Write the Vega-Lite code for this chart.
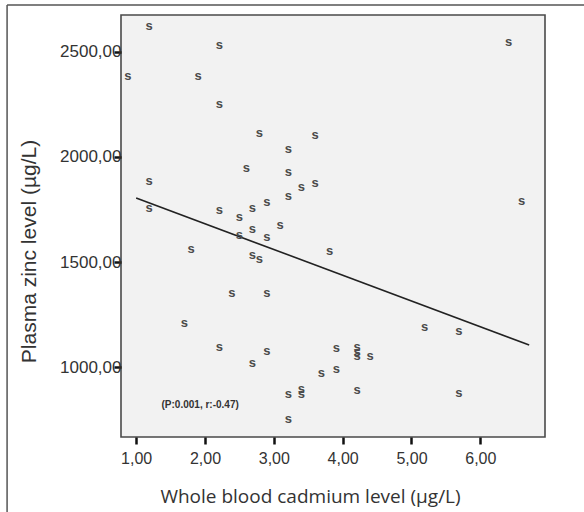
{
  "$schema": "https://vega.github.io/schema/vega-lite/v6.json",
  "width": 424,
  "height": 422,
  "autosize": {"type": "none"},
  "padding": {"left": 121, "top": 15, "right": 39, "bottom": 75},
  "background": "white",
  "config": {
    "view": {"fill": "#f2f2f2", "stroke": "#4a4a4a", "strokeWidth": 1.6},
    "axis": {"grid": false, "domain": false, "tickColor": "#111", "tickWidth": 2.5, "tickSize": 7, "labelColor": "#333", "titleColor": "#333", "labelFont": "Liberation Sans", "titleFontWeight": "normal"}
  },
  "datasets": {
    "points": [
      {"cd": 0.88, "zn": 2381}, {"cd": 1.19, "zn": 2619}, {"cd": 1.19, "zn": 1881}, {"cd": 1.19, "zn": 1757},
      {"cd": 1.70, "zn": 1209}, {"cd": 1.80, "zn": 1562}, {"cd": 1.90, "zn": 2381}, {"cd": 2.21, "zn": 2529},
      {"cd": 2.21, "zn": 2248}, {"cd": 2.21, "zn": 1743}, {"cd": 2.21, "zn": 1095}, {"cd": 2.39, "zn": 1352},
      {"cd": 2.50, "zn": 1714}, {"cd": 2.50, "zn": 1624}, {"cd": 2.60, "zn": 1943}, {"cd": 2.69, "zn": 1757},
      {"cd": 2.69, "zn": 1657}, {"cd": 2.69, "zn": 1529}, {"cd": 2.69, "zn": 1019}, {"cd": 2.79, "zn": 2114},
      {"cd": 2.79, "zn": 1510}, {"cd": 2.90, "zn": 1781}, {"cd": 2.90, "zn": 1619}, {"cd": 2.90, "zn": 1352},
      {"cd": 2.90, "zn": 1076}, {"cd": 3.09, "zn": 1676}, {"cd": 3.21, "zn": 2038}, {"cd": 3.21, "zn": 1924},
      {"cd": 3.21, "zn": 1810}, {"cd": 3.21, "zn": 867}, {"cd": 3.21, "zn": 752}, {"cd": 3.40, "zn": 1857},
      {"cd": 3.40, "zn": 895}, {"cd": 3.40, "zn": 871}, {"cd": 3.60, "zn": 2100}, {"cd": 3.60, "zn": 1876},
      {"cd": 3.69, "zn": 971}, {"cd": 3.81, "zn": 1548}, {"cd": 3.91, "zn": 1086}, {"cd": 3.91, "zn": 986},
      {"cd": 4.21, "zn": 1095}, {"cd": 4.21, "zn": 1071}, {"cd": 4.21, "zn": 1052}, {"cd": 4.21, "zn": 886},
      {"cd": 4.40, "zn": 1052}, {"cd": 5.19, "zn": 1186}, {"cd": 5.69, "zn": 1167}, {"cd": 5.69, "zn": 876},
      {"cd": 6.41, "zn": 2543}, {"cd": 6.60, "zn": 1786}
    ],
    "fit": [{"cd": 1.00, "zn": 1805}, {"cd": 6.71, "zn": 1105}],
    "note": [{"cd": 1.93, "zn": 819, "label": "(P:0.001, r:-0.47)"}],
    "frame": [{"x1": -0.875, "x2": 7.9, "y1": 2724, "y2": 200}]
  },
  "layer": [
    {
      "data": {"name": "frame"},
      "mark": {"type": "rule", "color": "#555", "strokeWidth": 1.5, "clip": false},
      "encoding": {
        "x": {"field": "x1", "type": "quantitative", "scale": {"domain": [0.78, 6.94], "nice": false, "zero": false}},
        "y": {"field": "y1", "type": "quantitative", "scale": {"domain": [667, 2676], "nice": false, "zero": false}},
        "y2": {"field": "y2"}
      }
    },
    {
      "data": {"name": "frame"},
      "mark": {"type": "rule", "color": "#555", "strokeWidth": 1.5, "clip": false},
      "encoding": {
        "x": {"field": "x1", "type": "quantitative"},
        "x2": {"field": "x2"},
        "y": {"field": "y1", "type": "quantitative"}
      }
    },
    {
      "data": {"name": "fit"},
      "mark": {"type": "line", "color": "#222", "strokeWidth": 1.6},
      "encoding": {
        "x": {"field": "cd", "type": "quantitative"},
        "y": {"field": "zn", "type": "quantitative"}
      }
    },
    {
      "data": {"name": "points"},
      "mark": {"type": "text", "text": "s", "font": "Liberation Sans", "fontSize": 13, "fontWeight": "bold", "color": "#4a4a4a", "baseline": "alphabetic", "dy": 3.5},
      "encoding": {
        "x": {"field": "cd", "type": "quantitative",
          "axis": {"values": [1, 2, 3, 4, 5, 6], "labelExpr": "replace(format(datum.value, '.2f'), '.', ',')",
            "labelFontSize": 16, "labelBaseline": "alphabetic", "labelPadding": 19.5, "labelDx": 4,
            "title": "Whole blood cadmium level (µg/L)", "titleFont": "Open Sans", "titleFontSize": 19,
            "titleX": 189, "titleY": 65, "titleBaseline": "alphabetic", "titleAlign": "center"}},
        "y": {"field": "zn", "type": "quantitative",
          "axis": {"values": [1000, 1500, 2000, 2500], "labelExpr": "replace(format(datum.value, '.2f'), '.', ',')",
            "labelFontSize": 17, "labelPadding": -7, "labelDy": 6,
            "title": "Plasma zinc level (µg/L)", "titleFont": "Liberation Sans", "titleFontSize": 21,
            "titleX": -86, "titleY": 236, "titleBaseline": "alphabetic", "titleAlign": "center", "titleAngle": 270}}
      }
    },
    {
      "data": {"name": "note"},
      "mark": {"type": "text", "font": "Liberation Sans Narrow, Liberation Sans", "fontSize": 10, "fontWeight": "bold", "color": "#333"},
      "encoding": {
        "x": {"field": "cd", "type": "quantitative"},
        "y": {"field": "zn", "type": "quantitative"},
        "text": {"field": "label"}
      }
    }
  ]
}
